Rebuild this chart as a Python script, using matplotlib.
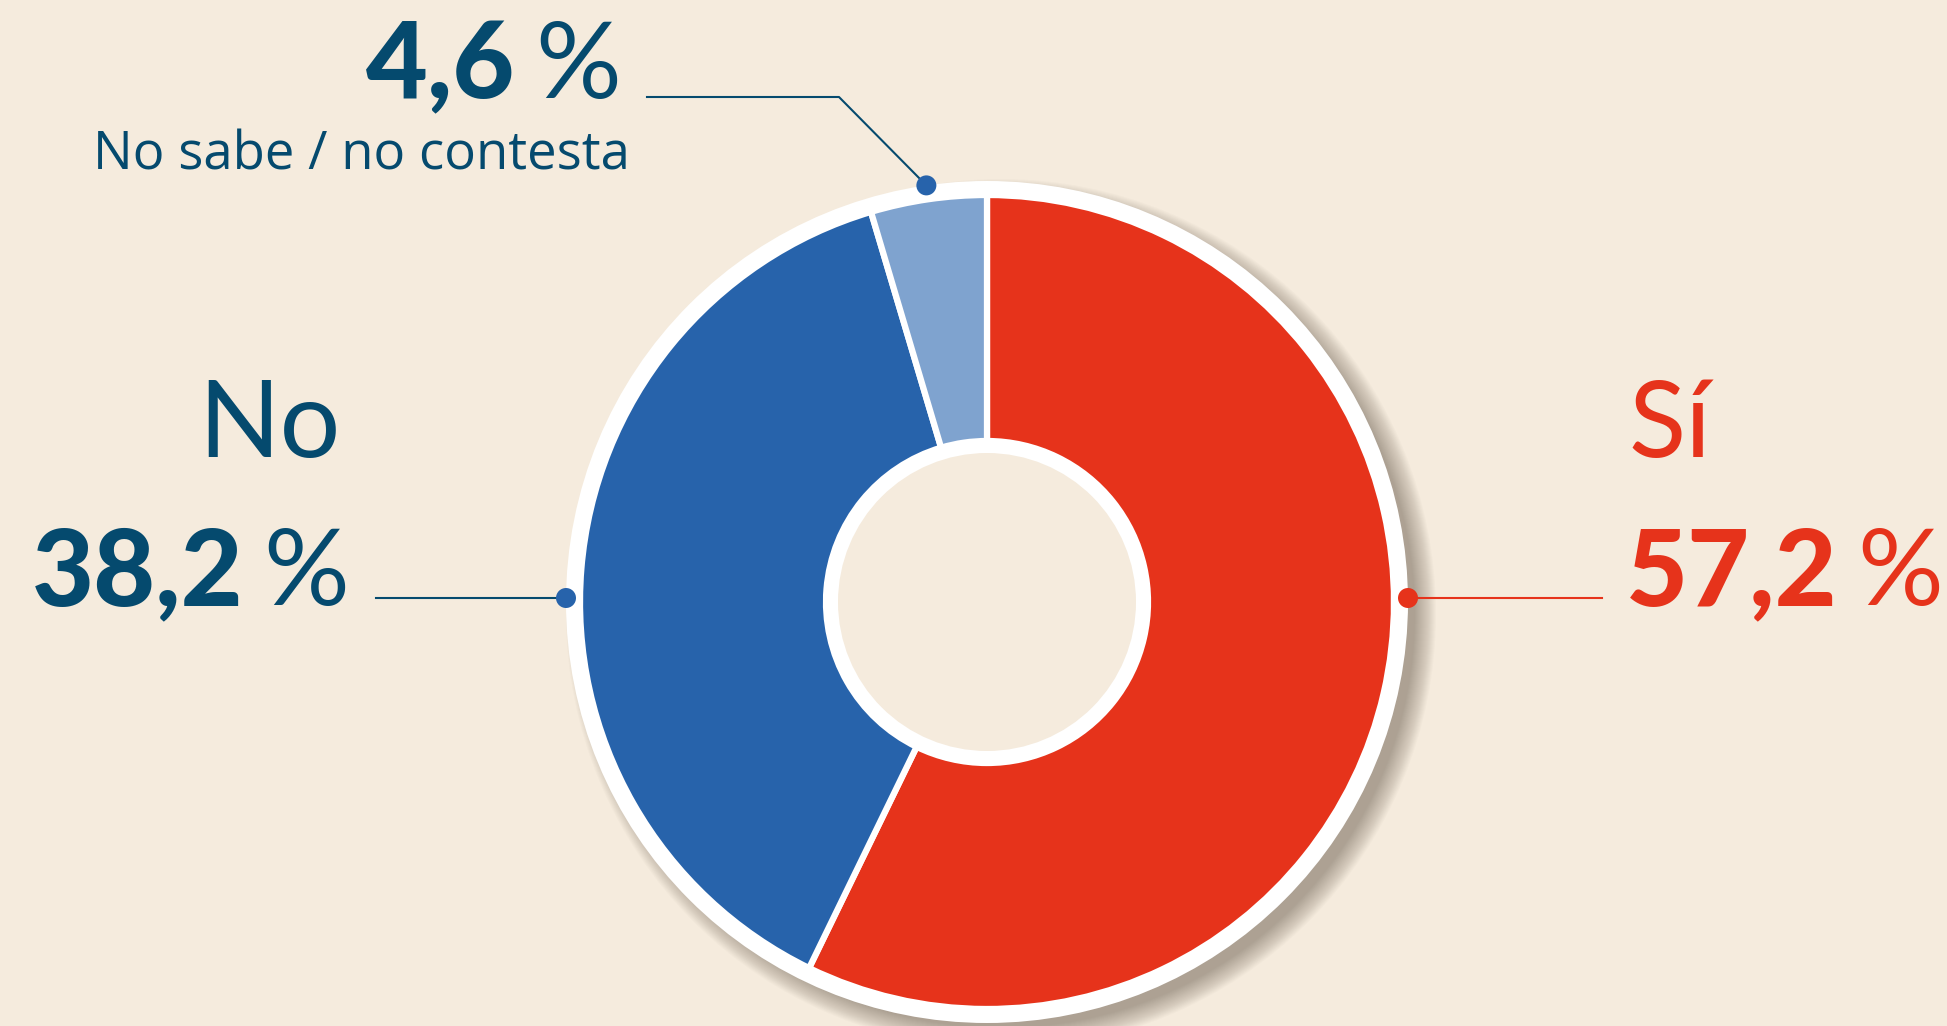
import matplotlib.pyplot as plt
from matplotlib.patches import Circle
import numpy as np

# Respuestas (porcentaje)
categories = ['Sí', 'No', 'No sabe / no contesta']
values = [57.2, 38.2, 4.6]
colors = ['#e6331b', '#2763ab', '#7fa3cf']

bg = '#f5ebdd'
navy = '#054a6e'
red = colors[0]
fam = ['Lato', 'DejaVu Sans']

W, H = 1947, 1026
fig = plt.figure(figsize=(W / 100, H / 100), dpi=100)
fig.patch.set_facecolor(bg)
ax = fig.add_axes([0, 0, 1, 1])
ax.set_facecolor(bg)

cx, cy = 987, H - 602
r_out, r_in = 407, 161
ring = 14

# soft drop shadow, down and to the right
for i in range(22):
    ax.add_patch(Circle((cx + 14, cy - 12), r_out + ring + 14 - i,
                        color='#5a4e3e', alpha=0.024, lw=0, zorder=1))
ax.add_patch(Circle((cx, cy), r_out + ring, color='white', lw=0, zorder=2))

wedges, _ = ax.pie(values, colors=colors, startangle=90, counterclock=False,
                   radius=r_out, center=(cx, cy),
                   wedgeprops=dict(width=r_out - r_in, edgecolor='white', linewidth=4.5))
for w in wedges:
    w.set_zorder(3)

ax.add_patch(Circle((cx, cy), r_in, color='white', lw=0, zorder=4))
ax.add_patch(Circle((cx, cy), r_in - 12, color=bg, lw=0, zorder=5))

ax.set_xlim(0, W)
ax.set_ylim(0, H)
ax.axis('off')

R = r_out + ring


def fmt(v):
    return ('%.1f' % v).replace('.', ',')


def number(x, y, v, color, ha='left'):
    t = ax.text(x, y, fmt(v), color=color, fontsize=77, family=fam,
                weight='black', ha=ha, va='baseline', zorder=6)
    ax.annotate('%', xy=(1, 0), xycoords=t, xytext=(14, 0),
                textcoords='offset points', color=color, fontsize=77,
                family=fam, weight='normal', ha='left', va='bottom', zorder=6)
    return t


# Sí (right)
ax.plot([cx + R, 1602], [cy + 4, cy + 4], color=red, lw=1.5, zorder=6)
ax.add_patch(Circle((cx + R, cy + 4), 10, color=red, lw=0, zorder=7))
ax.text(1628, H - 457, categories[0], color=red, fontsize=76, family=fam,
        weight='normal', ha='left', va='baseline', zorder=6)
number(1626, H - 605, values[0], red)

# No (left)
ax.plot([cx - R, 376], [cy + 4, cy + 4], color=navy, lw=1.5, zorder=6)
ax.add_patch(Circle((cx - R, cy + 4), 10, color=colors[1], lw=0, zorder=7))
ax.text(341, H - 457, categories[1], color=navy, fontsize=77, family=fam,
        weight='normal', ha='right', va='baseline', zorder=6)
number(32, H - 605, values[1], navy)

# No sabe / no contesta (top)
mid = np.deg2rad(90 - (values[0] + values[1] + values[2] / 2) * 3.6)
dx, dy = cx + R * np.cos(mid), cy + R * np.sin(mid)
ax.plot([dx, 839, 647], [dy, H - 97, H - 97], color=navy, lw=1.5, zorder=6)
ax.add_patch(Circle((dx, dy), 10, color=colors[1], lw=0, zorder=7))
number(366, H - 98, values[2], navy)
ax.text(630, H - 170, categories[2], color=navy, fontsize=38,
        family=['Open Sans', 'DejaVu Sans'], ha='right', va='baseline', zorder=6)

fig.savefig('out.png', dpi=100, facecolor=bg)
